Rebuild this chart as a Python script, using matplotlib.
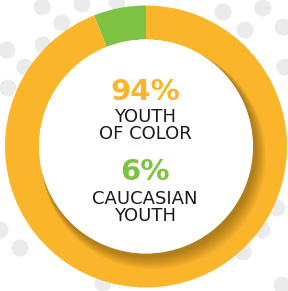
import matplotlib.pyplot as plt
from matplotlib.patches import Circle

# data
shares = [94, 6]
colors = ["#FBB52B", "#7DC242"]
label_lines = [["YOUTH", "OF COLOR"], ["CAUCASIAN", "YOUTH"]]

# decorative background dots (image pixel positions)
dots_x = [42, 82, 62, 7, 43, 25, 8, 117, 223, 263, 245, 283, 285, 0, 20, 262, 243, 277, 103, 282]
dots_y = [7, 4, 23, 50, 45, 67, 88, 2, 12, 8, 30, 27, 67, 230, 248, 230, 252, 208, 283, 285]

W, H = 288, 291
fig = plt.figure(figsize=(W / 100, H / 100), dpi=100)
ax = fig.add_axes([0, 0, 1, 1])

for x, y in zip(dots_x, dots_y):
    ax.add_patch(Circle((x, H - y), 8.5, color="#EBEBEB", lw=0, zorder=0))

cx, cy = 146, H - 146.5
r_out, r_in = 141, 107

# green first so it sits just left of 12 o'clock
ax.pie(shares[::-1], colors=colors[::-1], startangle=90, counterclock=True,
       center=(cx, cy), radius=r_out, frame=True,
       wedgeprops=dict(width=r_out - r_in, linewidth=0))
ax.set_xlim(0, W)
ax.set_ylim(0, H)
ax.set_aspect("auto")
ax.axis("off")

# soft shadow of the white disc onto the ring
for i in range(10):
    ax.add_patch(Circle((cx + 2 + i * 0.6, cy - 3 - i * 0.8), r_in + 1 + i * 0.5,
                        color="black", alpha=0.03, lw=0, zorder=3))
ax.add_patch(Circle((cx, cy), r_in, color="white", lw=0, zorder=4))

# percentage + two label lines per group (baselines in image pixels)
baselines = [(100, 122, 139), (180, 204, 221)]
for share, col, lines, (b0, b1, b2) in zip(shares, colors, label_lines, baselines):
    ax.text(145, H - b0, f"{share}%", color=col, fontsize=21,
            fontweight="bold", ha="center", va="baseline", zorder=5)
    ax.text(145, H - b1, lines[0], color="#1a1a1a", fontsize=13,
            ha="center", va="baseline", zorder=5)
    ax.text(145, H - b2, lines[1], color="#1a1a1a", fontsize=13,
            ha="center", va="baseline", zorder=5)

fig.savefig("out.png", dpi=100)
